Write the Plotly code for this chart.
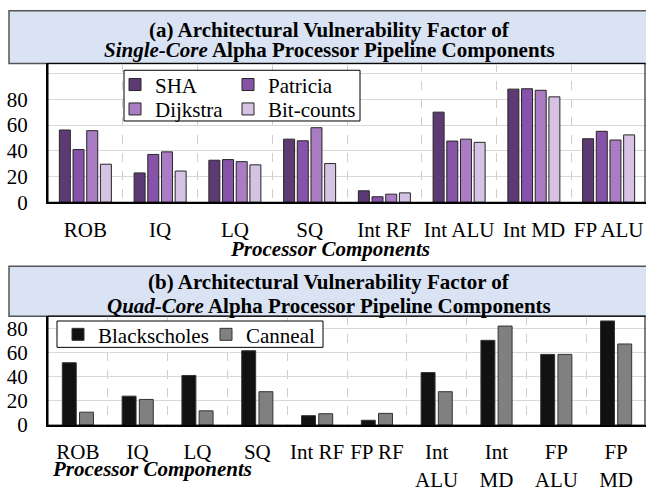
import plotly.graph_objects as go

# ---------------- data ----------------
cats_a = ["ROB", "IQ", "LQ", "SQ", "Int RF", "Int ALU", "Int MD", "FP ALU"]
sha = [56.2, 22.8, 32.7, 49.1, 8.9, 70.1, 88.0, 49.4]
patricia = [41.0, 37.2, 33.2, 47.8, 4.3, 47.6, 88.3, 55.2]
dijkstra = [55.7, 39.2, 31.6, 58.0, 6.3, 49.1, 87.1, 48.4]
bitcounts = [29.6, 24.3, 29.1, 30.1, 7.3, 46.6, 82.0, 52.4]

cats_b = ["ROB", "IQ", "LQ", "SQ", "Int RF", "FP RF",
          "Int<br>ALU", "Int<br>MD", "FP<br>ALU", "FP<br>MD"]
blackscholes = [51.5, 23.9, 41.0, 61.4, 7.8, 4.0, 43.4, 70.0, 58.4, 86.0]
canneal = [10.7, 21.2, 11.8, 27.6, 9.4, 9.7, 27.6, 81.8, 58.4, 67.0]

yticks_a = [0, 20, 40, 60, 80, 100]
yticklabels_a = ["0", "20", "40", "60", "80", ""]
yticks_b = [0, 20, 40, 60, 80]

# ---------------- style ----------------
W, H = 646, 494
FONT = "Liberation Serif"
FS = 21


def px(p):
    return p / W


def py(p):
    return 1 - p / H


colors_a = ["#5e3a75", "#8653a8", "#a97cc4", "#d6c3e4"]
colors_b = ["#111111", "#808080"]

fig = go.Figure()

series_a = [("SHA", sha), ("Patricia", patricia), ("Dijkstra", dijkstra), ("Bit-counts", bitcounts)]
slot_a, bw_a = 0.183, 0.147
n_a = len(series_a)
for i, (name, vals) in enumerate(series_a):
    fig.add_trace(go.Bar(
        x=list(range(len(cats_a))), y=vals, name=name,
        width=bw_a, offset=-n_a * slot_a / 2 + i * slot_a + (slot_a - bw_a) / 2,
        marker=dict(color=colors_a[i], line=dict(color="#262626", width=1)),
        xaxis="x", yaxis="y", legend="legend" if i == 0 else "legend%d" % (i + 1),
    ))

series_b = [("Blackscholes", blackscholes), ("Canneal", canneal)]
slot_b, bw_b = 0.288, 0.233
n_b = len(series_b)
for i, (name, vals) in enumerate(series_b):
    fig.add_trace(go.Bar(
        x=list(range(len(cats_b))), y=vals, name=name,
        width=bw_b, offset=-n_b * slot_b / 2 + i * slot_b + (slot_b - bw_b) / 2,
        marker=dict(color=colors_b[i], line=dict(color="#333333", width=1)),
        xaxis="x2", yaxis="y2", legend="legend%d" % (5 + i),
    ))

tickfont = dict(family=FONT, size=FS, color="black")
grid = "#d9d9d9"


def xaxis_cfg(cats, anchor, standoff):
    return dict(
        domain=[px(48), 1.0], anchor=anchor, range=[-0.5, len(cats) - 0.5],
        tickmode="array", tickvals=list(range(len(cats))), ticktext=cats,
        showgrid=False, showline=True, linecolor="black", linewidth=2,
        ticks="", tickfont=tickfont, ticklabelstandoff=standoff, zeroline=False,
        minor=dict(tickmode="array", tickvals=[k + 0.5 for k in range(len(cats) - 1)],
                   showgrid=True, gridcolor="#cfcfcf", griddash="dash", gridwidth=1, ticks=""),
        fixedrange=True,
    )


fig.update_layout(
    width=W, height=H, margin=dict(l=0, r=0, t=0, b=0),
    paper_bgcolor="white", plot_bgcolor="white",
    barmode="group", showlegend=True,
    font=dict(family=FONT, size=FS, color="black"),
    xaxis=xaxis_cfg(cats_a, "y", 8),
    xaxis2=xaxis_cfg(cats_b, "y2", 7),
    yaxis=dict(domain=[py(207.3), py(65)], anchor="x", range=[0, 108],
               tickmode="array", tickvals=yticks_a, ticktext=yticklabels_a,
               showgrid=True, gridcolor=grid, gridwidth=1, zeroline=False,
               showline=True, linecolor="black", linewidth=2, ticks="",
               tickfont=tickfont, ticklabelstandoff=14, fixedrange=True),
    yaxis2=dict(domain=[py(435.7), py(324)], anchor="x2", range=[0, 90],
                tickmode="array", tickvals=yticks_b,
                showgrid=True, gridcolor=grid, gridwidth=1, zeroline=False,
                showline=True, linecolor="black", linewidth=2, ticks="",
                tickfont=tickfont, ticklabelstandoff=14, fixedrange=True),
)

legfont = dict(family=FONT, size=FS, color="black")
leg_pos = {
    "legend": (115, 66), "legend2": (228, 66),
    "legend3": (115, 91), "legend4": (228, 91),
    "legend5": (58, 322), "legend6": (206, 322),
}
for key, (lx, ly) in leg_pos.items():
    fig.update_layout({key: dict(x=px(lx), y=py(ly), xanchor="left", yanchor="top",
                                 bgcolor="rgba(0,0,0,0)", borderwidth=0, font=legfont,
                                 itemwidth=30, orientation="v")})

shapes = [
    dict(type="rect", xref="paper", yref="paper", x0=px(9), x1=1.01, y0=py(65), y1=py(11),
         fillcolor="#dae3f3", line=dict(color="#555555", width=1.5), layer="below"),
    dict(type="rect", xref="paper", yref="paper", x0=px(9), x1=1.01, y0=py(324), y1=py(273),
         fillcolor="#dae3f3", line=dict(color="#555555", width=1.5), layer="below"),
    dict(type="rect", xref="paper", yref="paper", x0=px(48), x1=px(645), y0=py(207.3), y1=py(65),
         line=dict(color="black", width=1), layer="above"),
    dict(type="rect", xref="paper", yref="paper", x0=px(48), x1=px(645), y0=py(435.7), y1=py(324),
         line=dict(color="black", width=1), layer="above"),
    dict(type="rect", xref="paper", yref="paper", x0=px(124), x1=px(360), y0=py(124), y1=py(72),
         fillcolor="white", line=dict(color="black", width=1), layer="above"),
    dict(type="rect", xref="paper", yref="paper", x0=px(57), x1=px(323), y0=py(356), y1=py(329),
         fillcolor="white", line=dict(color="black", width=1), layer="above"),
]
fig.update_layout(shapes=shapes)

bold = dict(family=FONT, size=FS, color="black")
annotations = [
    dict(text="<b>(a) Architectural Vulnerability Factor of</b>", x=px(329), y=py(30.3)),
    dict(text="<b><i>Single-Core</i> Alpha Processor Pipeline Components</b>", x=px(329), y=py(51.7)),
    dict(text="<b>(b) Architectural Vulnerability Factor of</b>", x=px(329), y=py(289)),
    dict(text="<b><i>Quad-Core</i> Alpha Processor Pipeline Components</b>", x=px(329), y=py(313.5)),
    dict(text="<b><i>Processor Components</i></b>", x=px(330), y=py(255)),
    dict(text="<b><i>Processor Components</i></b>", x=px(152), y=py(481)),
]
for a in annotations:
    a.update(xref="paper", yref="paper", xanchor="center", yanchor="middle",
             showarrow=False, font=bold)
fig.update_layout(annotations=annotations)

fig.write_html("out.html", config={"displayModeBar": False, "responsive": False},
               post_script="document.body.style.margin='0';")
